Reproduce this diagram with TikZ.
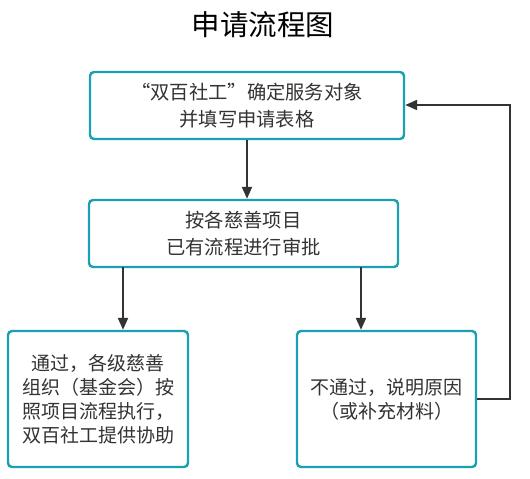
\documentclass[tikz,border=0pt]{standalone}
\usepackage{fontspec}
\setmainfont{Noto Sans CJK SC}
\usetikzlibrary{arrows.meta}
\definecolor{teal1}{HTML}{1AA0B0}
\definecolor{txt}{HTML}{333333}
\definecolor{arr}{HTML}{333333}
\begin{document}
\begin{tikzpicture}[x=1pt,y=-1pt,
  boxs/.style={draw=teal1,line width=2.4pt,rounded corners=4pt,fill=white,text=txt,align=center,inner sep=0pt,font=\fontsize{19.3pt}{27pt}\selectfont},
  arw/.style={draw=arr,line width=2pt,-{Triangle[length=12pt,width=10pt]}}]
\useasboundingbox (0,0) rectangle (530,479);
\node[text=black,font=\fontsize{28.5pt}{32pt}\selectfont] (title) at (263,25) {申请流程图};
\node[boxs,minimum width=314pt,minimum height=67pt] (b1) at (247,105.5) {“双百社工”确定服务对象\\并填写申请表格};
\node[boxs,minimum width=309pt,minimum height=67pt] (b2) at (243.5,233.5) {按各慈善项目\\已有流程进行审批};
\node[boxs,minimum width=180pt,minimum height=136pt,font=\fontsize{19pt}{24pt}\selectfont] (b3) at (98,399) {通过，各级慈善\\组织（基金会）按\\照项目流程执行，\\双百社工提供协助};
\node[boxs,minimum width=179pt,minimum height=136pt,font=\fontsize{19pt}{24pt}\selectfont] (b4) at (386.5,399) {不通过，说明原因\\（或补充材料）};
\draw[arw] (b1.south) -- (b1.south |- b2.north);
\coordinate (l1) at (123,267);
\coordinate (r1) at (361,267);
\draw[arw] (l1) -- (l1 |- b3.north);
\draw[arw] (r1) -- (r1 |- b4.north);
\coordinate (c1) at (510,399);
\coordinate (c2) at (510,105);
\draw[arw] (b4.east) -- (c1) -- (c2) -- (b1.east |- c2);
\end{tikzpicture}
\end{document}
